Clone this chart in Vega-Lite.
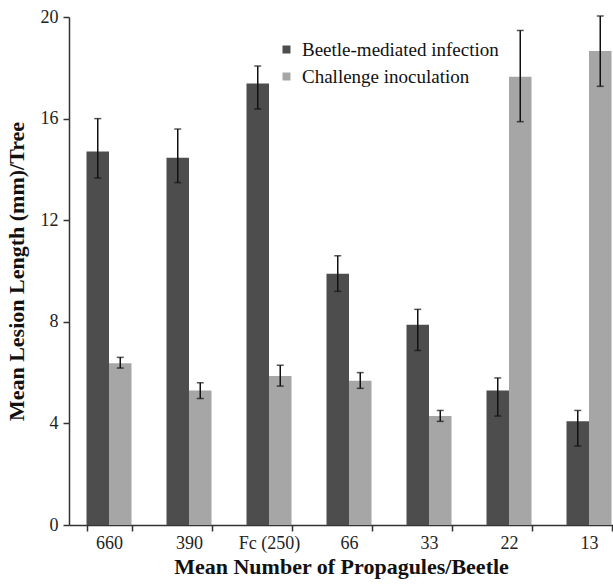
{
  "$schema": "https://vega.github.io/schema/vega-lite/v6.json",
  "width": 544,
  "height": 508,
  "autosize": {"type": "none"},
  "padding": {"left": 69, "top": 17, "right": 0, "bottom": 60},
  "background": "white",
  "config": {
    "view": {"stroke": null},
    "font": "Liberation Serif",
    "axis": {"labelFont": "Liberation Serif", "titleFont": "Liberation Serif", "domainColor": "#333333", "tickColor": "#333333", "labelColor": "#222222", "titleColor": "#111111", "grid": false}
  },
  "data": {
    "values": [
      {"cat": "660", "group": "Beetle-mediated infection", "mean": 14.7, "lo": 13.66, "hi": 16.0},
      {"cat": "390", "group": "Beetle-mediated infection", "mean": 14.46, "lo": 13.48, "hi": 15.59},
      {"cat": "Fc (250)", "group": "Beetle-mediated infection", "mean": 17.38, "lo": 16.38, "hi": 18.07},
      {"cat": "66", "group": "Beetle-mediated infection", "mean": 9.89, "lo": 9.2, "hi": 10.6},
      {"cat": "33", "group": "Beetle-mediated infection", "mean": 7.88, "lo": 6.87, "hi": 8.49},
      {"cat": "22", "group": "Beetle-mediated infection", "mean": 5.3, "lo": 4.29, "hi": 5.79},
      {"cat": "13", "group": "Beetle-mediated infection", "mean": 4.08, "lo": 3.11, "hi": 4.51},
      {"cat": "660", "group": "Challenge inoculation", "mean": 6.37, "lo": 6.18, "hi": 6.6},
      {"cat": "390", "group": "Challenge inoculation", "mean": 5.3, "lo": 4.98, "hi": 5.6},
      {"cat": "Fc (250)", "group": "Challenge inoculation", "mean": 5.87, "lo": 5.47, "hi": 6.29},
      {"cat": "66", "group": "Challenge inoculation", "mean": 5.68, "lo": 5.38, "hi": 6.0},
      {"cat": "33", "group": "Challenge inoculation", "mean": 4.29, "lo": 4.08, "hi": 4.51},
      {"cat": "22", "group": "Challenge inoculation", "mean": 17.65, "lo": 15.88, "hi": 19.47},
      {"cat": "13", "group": "Challenge inoculation", "mean": 18.66, "lo": 17.27, "hi": 20.04}
    ]
  },
  "encoding": {
    "x": {
      "field": "cat", "type": "nominal",
      "sort": ["660", "390", "Fc (250)", "66", "33", "22", "13"],
      "scale": {"range": [0, 560], "paddingInner": 0.4375, "paddingOuter": 0.21875},
      "axis": {"title": "Mean Number of Propagules/Beetle", "labelAngle": 0, "labelFontSize": 18, "titleFontSize": 22, "titleFontWeight": "bold", "tickBand": "extent", "tickSize": 6, "labelPadding": 3, "titlePadding": 4, "domainWidth": 1.5, "tickWidth": 1.5, "titleX": 272}
    },
    "xOffset": {"field": "group", "type": "nominal", "sort": ["Beetle-mediated infection", "Challenge inoculation"], "scale": {"paddingInner": 0, "paddingOuter": 0}}
  },
  "layer": [
    {
      "mark": {"type": "bar"},
      "encoding": {
        "y": {"field": "mean", "type": "quantitative", "scale": {"domain": [0, 20]},
          "axis": {"title": "Mean Lesion Length (mm)/Tree", "values": [0, 4, 8, 12, 16, 20], "labelFontSize": 18, "titleFontSize": 22, "titleFontWeight": "bold", "tickSize": 6, "labelPadding": 5, "titlePadding": 12, "domainWidth": 1.5, "tickWidth": 1.5}},
        "color": {"field": "group", "type": "nominal",
          "scale": {"domain": ["Beetle-mediated infection", "Challenge inoculation"], "range": ["#4d4d4d", "#a6a6a6"]},
          "legend": {"title": null, "orient": "none", "legendX": 208, "legendY": 23, "symbolType": "square", "symbolSize": 64, "labelFontSize": 19, "labelFont": "Liberation Serif", "labelColor": "#111111", "labelLimit": 0, "labelOffset": 6, "rowPadding": 7, "symbolStrokeWidth": 0}}
      }
    },
    {
      "mark": {"type": "rule", "color": "#111111", "strokeWidth": 1.5},
      "encoding": {"y": {"field": "lo", "type": "quantitative"}, "y2": {"field": "hi"}}
    },
    {
      "mark": {"type": "tick", "color": "#111111", "thickness": 1.5, "size": 7},
      "encoding": {"y": {"field": "lo", "type": "quantitative"}}
    },
    {
      "mark": {"type": "tick", "color": "#111111", "thickness": 1.5, "size": 7},
      "encoding": {"y": {"field": "hi", "type": "quantitative"}}
    }
  ]
}
